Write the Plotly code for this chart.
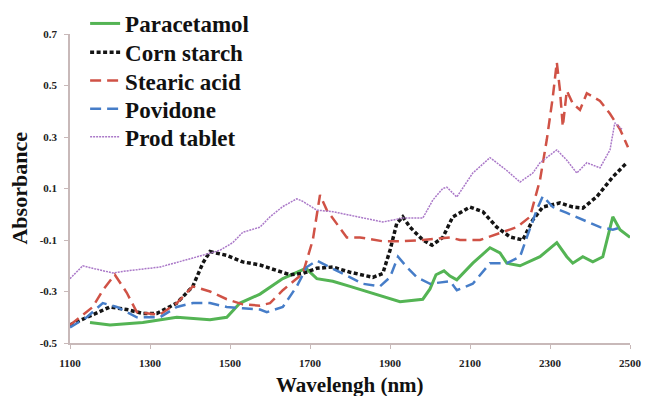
import plotly.graph_objects as go

para_x = [1150, 1200, 1282, 1367, 1450, 1492, 1525, 1575, 1632, 1660, 1690, 1717, 1757, 1800, 1882, 1925, 1982, 2000, 2015, 2035, 2050, 2067, 2107, 2150, 2175, 2192, 2225, 2275, 2317, 2342, 2357, 2382, 2407, 2432, 2457, 2475, 2500]
para_y = [-0.42, -0.43, -0.42, -0.40, -0.41, -0.40, -0.345, -0.31, -0.25, -0.23, -0.21, -0.25, -0.26, -0.28, -0.32, -0.34, -0.33, -0.29, -0.235, -0.22, -0.24, -0.255, -0.19, -0.13, -0.15, -0.19, -0.20, -0.165, -0.11, -0.165, -0.19, -0.165, -0.185, -0.165, -0.01, -0.06, -0.09]

corn_x = [1100, 1142, 1200, 1242, 1282, 1317, 1367, 1407, 1432, 1450, 1492, 1532, 1575, 1600, 1650, 1682, 1717, 1757, 1800, 1857, 1882, 1900, 1917, 1932, 1950, 1982, 2005, 2032, 2057, 2100, 2132, 2167, 2200, 2232, 2257, 2282, 2325, 2357, 2382, 2417, 2457, 2492]
corn_y = [-0.43, -0.40, -0.36, -0.37, -0.385, -0.385, -0.345, -0.28, -0.19, -0.145, -0.16, -0.185, -0.197, -0.21, -0.235, -0.23, -0.21, -0.205, -0.225, -0.245, -0.23, -0.14, -0.035, -0.01, -0.05, -0.10, -0.12, -0.09, -0.01, 0.028, 0.01, -0.05, -0.088, -0.10, -0.022, 0.028, 0.044, 0.028, 0.024, 0.068, 0.145, 0.20]

stear_x = [1100, 1157, 1182, 1212, 1242, 1267, 1325, 1367, 1407, 1450, 1492, 1532, 1575, 1600, 1632, 1682, 1707, 1725, 1742, 1767, 1792, 1825, 1882, 1925, 1982, 2050, 2075, 2125, 2175, 2217, 2250, 2275, 2292, 2307, 2317, 2325, 2332, 2342, 2357, 2375, 2392, 2425, 2450, 2475, 2495]
stear_y = [-0.43, -0.36, -0.295, -0.235, -0.305, -0.38, -0.39, -0.345, -0.28, -0.30, -0.33, -0.35, -0.355, -0.345, -0.295, -0.23, -0.10, 0.075, 0.016, -0.035, -0.09, -0.09, -0.105, -0.105, -0.10, -0.09, -0.10, -0.10, -0.073, -0.05, -0.01, 0.133, 0.29, 0.455, 0.59, 0.48, 0.34, 0.48, 0.43, 0.405, 0.47, 0.44, 0.39, 0.33, 0.26]

povi_x = [1100, 1142, 1182, 1217, 1267, 1325, 1367, 1407, 1450, 1492, 1532, 1575, 1592, 1632, 1667, 1692, 1717, 1750, 1782, 1832, 1875, 1900, 1920, 1942, 1967, 2000, 2050, 2067, 2107, 2150, 2192, 2225, 2242, 2267, 2282, 2307, 2342, 2382, 2425, 2457, 2480]
povi_y = [-0.44, -0.40, -0.345, -0.36, -0.40, -0.40, -0.36, -0.345, -0.345, -0.36, -0.365, -0.37, -0.38, -0.36, -0.28, -0.205, -0.18, -0.205, -0.23, -0.27, -0.28, -0.245, -0.165, -0.205, -0.245, -0.27, -0.26, -0.295, -0.27, -0.19, -0.19, -0.165, -0.09, 0.017, 0.07, 0.028, 0.005, -0.02, -0.05, -0.06, -0.05]

prod_x = [1100, 1132, 1157, 1207, 1242, 1325, 1407, 1475, 1507, 1532, 1575, 1600, 1632, 1667, 1682, 1717, 1757, 1800, 1882, 1932, 1982, 2007, 2032, 2042, 2067, 2107, 2150, 2192, 2225, 2257, 2275, 2317, 2342, 2367, 2392, 2425, 2450, 2462, 2480]
prod_y = [-0.25, -0.20, -0.21, -0.228, -0.22, -0.205, -0.17, -0.14, -0.11, -0.07, -0.05, -0.01, 0.03, 0.06, 0.05, 0.016, 0.01, -0.003, -0.03, -0.015, -0.015, 0.055, 0.10, 0.105, 0.067, 0.16, 0.22, 0.17, 0.125, 0.16, 0.2, 0.25, 0.21, 0.16, 0.2, 0.18, 0.25, 0.355, 0.33]

x_ticks = [1100, 1300, 1500, 1700, 1900, 2100, 2300, 2500]
y_ticks = [-0.5, -0.3, -0.1, 0.1, 0.3, 0.5, 0.7]
y_ticklabels = ["-0.5", "-0.3", "-0.1", "0.1", "0.3", "0.5", "0.7"]

series_names = ["Paracetamol", "Corn starch", "Stearic acid", "Povidone", "Prod tablet"]
series_x = [para_x, corn_x, stear_x, povi_x, prod_x]
series_y = [para_y, corn_y, stear_y, povi_y, prod_y]

colors = ["rgb(84,180,84)", "rgb(20,20,20)", "rgb(208,82,70)", "rgb(70,125,200)", "rgb(170,120,200)"]
dashes = ["solid", "4px,2.5px", "11px,6px", "11px,6px", "2px,1px"]
widths = [3, 3.5, 2.5, 2.5, 1.5]
# legend entry centres (paper y), one small legend per series
legend_y = [1.034, 0.941, 0.849, 0.758, 0.667]

serif = "Liberation Serif, Times New Roman, serif"
axis_col = "rgb(200,185,185)"

fig = go.Figure()
layout_legends = {}
for i, name in enumerate(series_names):
    key = "legend" if i == 0 else f"legend{i + 1}"
    fig.add_trace(go.Scatter(x=series_x[i], y=series_y[i], mode="lines", name=name,
                             legend=key,
                             line=dict(color=colors[i], dash=dashes[i], width=widths[i])))
    layout_legends[key] = dict(x=0.027, y=legend_y[i], xanchor="left", yanchor="middle",
                               bgcolor="rgba(0,0,0,0)",
                               font=dict(family=serif, size=23, color="#111", weight="bold"))

fig.update_layout(
    width=645, height=396,
    font=dict(family=serif),
    margin=dict(l=70, r=15, t=34, b=53, autoexpand=False),
    plot_bgcolor="white", paper_bgcolor="white",
    showlegend=True,
    xaxis=dict(range=[1100, 2500], tickvals=x_ticks, ticktext=[str(v) for v in x_ticks],
               showgrid=False, zeroline=False, showline=True, linecolor=axis_col, linewidth=1.5,
               ticks="outside", ticklen=4, tickcolor=axis_col, ticklabelstandoff=5,
               tickfont=dict(family=serif, size=11, color="#222", weight="bold")),
    yaxis=dict(range=[-0.5, 0.7], tickvals=y_ticks, ticktext=y_ticklabels,
               showgrid=False, zeroline=False, showline=True, linecolor=axis_col, linewidth=1.5,
               ticks="outside", ticklen=4, tickcolor=axis_col, ticklabelstandoff=5,
               tickfont=dict(family=serif, size=11, color="#222", weight="bold")),
    annotations=[
        dict(text="<b>Absorbance</b>", xref="paper", yref="paper", x=-0.091, y=0.5,
             textangle=-90, showarrow=False, xanchor="center", yanchor="middle",
             font=dict(family=serif, size=22, color="#111")),
        dict(text="<b>Wavelengh (nm)</b>", xref="paper", yref="paper", x=0.5, y=-0.135,
             showarrow=False, xanchor="center", yanchor="middle",
             font=dict(family=serif, size=21, color="#111")),
    ],
    **layout_legends,
)
fig.write_html("out.html", config={"displayModeBar": False},
               post_script="document.body.style.margin='0';document.body.style.padding='0';")
